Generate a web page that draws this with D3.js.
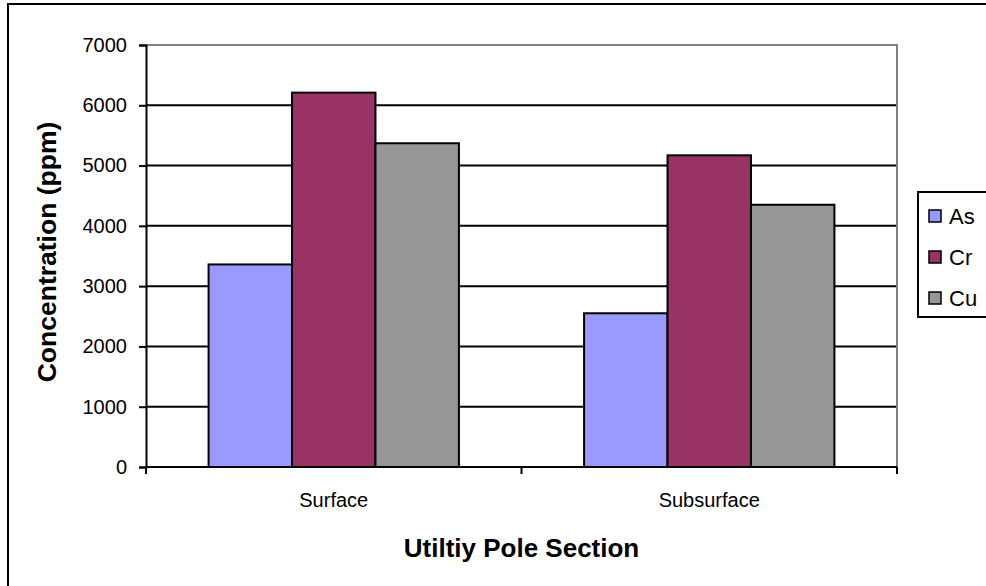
<!DOCTYPE html>
<html>
<head>
<meta charset="utf-8">
<script src="https://cdn.jsdelivr.net/npm/d3@7"></script>
<style>
  html, body { margin: 0; padding: 0; background: #fff; }
  svg { display: block; font-family: Arial, "Liberation Sans", sans-serif; }
</style>
</head>
<body>
<svg id="chart" width="986" height="586"></svg>
<script>
// Metal concentrations in utility pole sections (ppm)
const categories = ["Surface", "Subsurface"];
const seriesNames = ["As", "Cr", "Cu"];
const seriesColors = ["#9999FF", "#993366", "#969696"];
const asValues = [3360, 2550];
const crValues = [6210, 5170];
const cuValues = [5370, 4350];
const yTicks = [0, 1000, 2000, 3000, 4000, 5000, 6000, 7000];

const seriesValues = [asValues, crValues, cuValues];

const svg = d3.select("#chart");
const plot = { left: 146, right: 897, top: 45, bottom: 467 };

// outer chart frame
svg.append("rect")
  .attr("x", 8).attr("y", 4)
  .attr("width", 1200).attr("height", 1200)
  .attr("fill", "none").attr("stroke", "#000").attr("stroke-width", 2);

const x0 = d3.scaleBand()
  .domain(categories)
  .range([plot.left, plot.right])
  .paddingInner(1.5 / 4.5)
  .paddingOuter(0.75 / 4.5);

const x1 = d3.scaleBand()
  .domain(seriesNames)
  .range([0, x0.bandwidth()]);

const y = d3.scaleLinear()
  .domain([0, 7000])
  .range([plot.bottom, plot.top]);

// gridlines
svg.append("g")
  .selectAll("line")
  .data(yTicks.filter(t => t > 0 && t < 7000))
  .join("line")
  .attr("x1", plot.left).attr("x2", plot.right)
  .attr("y1", d => y(d)).attr("y2", d => y(d))
  .attr("stroke", "#000").attr("stroke-width", 2);

// plot area border (top and right)
svg.append("path")
  .attr("d", `M${plot.left},${y(7000)}H${plot.right}V${plot.bottom}`)
  .attr("fill", "none").attr("stroke", "#808080").attr("stroke-width", 2);

// bars
const groups = svg.append("g")
  .selectAll("g")
  .data(categories)
  .join("g")
  .attr("transform", d => `translate(${x0(d)},0)`);

groups.selectAll("rect")
  .data((c, ci) => seriesNames.map((s, si) => ({ s, si, v: seriesValues[si][ci] })))
  .join("rect")
  .attr("x", d => x1(d.s))
  .attr("y", d => y(d.v))
  .attr("width", x1.bandwidth())
  .attr("height", d => y(0) - y(d.v))
  .attr("fill", d => seriesColors[d.si])
  .attr("stroke", "#000").attr("stroke-width", 2);

// y axis
const yAxis = svg.append("g")
  .attr("transform", `translate(${plot.left},0)`)
  .call(d3.axisLeft(y).tickValues(yTicks).tickSize(7).tickPadding(12).tickFormat(d3.format("d")));
yAxis.select(".domain").attr("stroke", "#000").attr("stroke-width", 2);
yAxis.selectAll(".tick line").attr("stroke", "#000").attr("stroke-width", 2);
yAxis.selectAll(".tick text").attr("font-size", 20).attr("font-family", "Arial, 'Liberation Sans', sans-serif").attr("fill", "#000");

// x axis with category boundary ticks
const xAxisG = svg.append("g");
xAxisG.append("line")
  .attr("x1", plot.left).attr("x2", plot.right)
  .attr("y1", plot.bottom).attr("y2", plot.bottom)
  .attr("stroke", "#000").attr("stroke-width", 2);
xAxisG.selectAll("line.tk")
  .data([plot.left, (plot.left + plot.right) / 2, plot.right])
  .join("line")
  .attr("class", "tk")
  .attr("x1", d => d).attr("x2", d => d)
  .attr("y1", plot.bottom).attr("y2", plot.bottom + 7)
  .attr("stroke", "#000").attr("stroke-width", 2);
xAxisG.selectAll("text")
  .data(categories)
  .join("text")
  .attr("x", d => x0(d) + x0.bandwidth() / 2)
  .attr("y", 507)
  .attr("text-anchor", "middle")
  .attr("font-size", 20)
  .text(d => d);

// axis titles
svg.append("text")
  .attr("x", (plot.left + plot.right) / 2)
  .attr("y", 557)
  .attr("text-anchor", "middle")
  .attr("font-size", 26).attr("font-weight", "bold")
  .text("Utiltiy Pole Section");

svg.append("text")
  .attr("transform", `translate(56,${(plot.top + plot.bottom) / 2 - 4}) rotate(-90)`)
  .attr("text-anchor", "middle")
  .attr("font-size", 26.5).attr("font-weight", "bold")
  .text("Concentration (ppm)");

// legend
const legend = svg.append("g");
legend.append("rect")
  .attr("x", 918).attr("y", 192)
  .attr("width", 200).attr("height", 125)
  .attr("fill", "#fff").attr("stroke", "#000").attr("stroke-width", 2);
const items = legend.selectAll("g.item")
  .data(seriesNames)
  .join("g")
  .attr("class", "item")
  .attr("transform", (d, i) => `translate(0,${216 + i * 41})`);
items.append("rect")
  .attr("x", 929).attr("y", -6)
  .attr("width", 12).attr("height", 12)
  .attr("fill", (d, i) => seriesColors[i])
  .attr("stroke", "#000").attr("stroke-width", 1.5);
items.append("text")
  .attr("x", 949).attr("y", 8)
  .attr("font-size", 22)
  .text(d => d);
</script>
</body>
</html>
